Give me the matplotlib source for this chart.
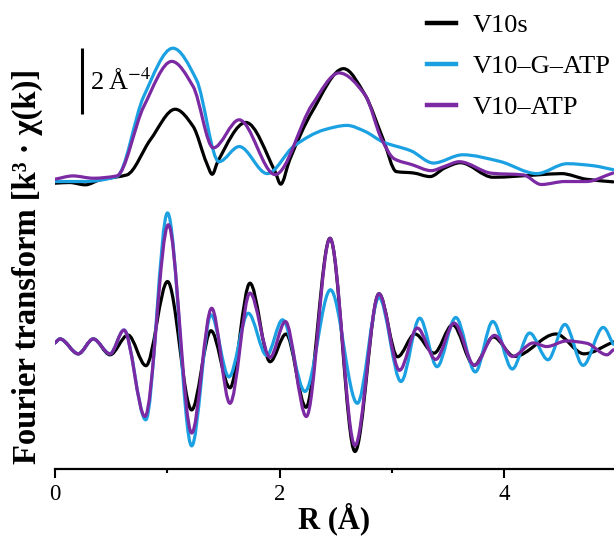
import matplotlib.pyplot as plt
import numpy as np
from matplotlib.path import Path
from matplotlib.patches import PathPatch
from matplotlib.lines import Line2D

plt.rcParams["font.family"] = ["Liberation Serif", "DejaVu Serif"]
plt.rcParams["mathtext.fontset"] = "stix"

# --- data (R in Angstrom, amplitude in A^-4) ---
labels = ["V10s", "V10\u2013G\u2013ATP", "V10\u2013ATP"]
colors = ["#000000", "#1ba1e2", "#7b2aa3"]

# magnitude |FT| (upper traces)
r_mag_v10s = [0.00, 0.13, 0.27, 0.40, 0.55, 0.64, 0.85, 1.07, 1.23, 1.35, 1.40, 1.45, 1.70, 1.96, 2.01,
              2.09, 2.29, 2.57, 2.76, 2.92, 3.04, 3.19, 3.34, 3.47, 3.61, 3.90, 4.29, 4.51, 4.73, 4.97]
mag_v10s = [0.23, 0.25, 0.18, 0.33, 0.42, 0.48, 1.55, 2.47, 1.95, 0.84, 0.50, 0.89, 2.07, 0.58, 0.20,
            0.94, 2.40, 3.70, 2.91, 1.58, 0.58, 0.54, 0.43, 0.69, 0.85, 0.41, 0.48, 0.52, 0.35, 0.27]

r_mag_gatp = [0.00, 0.25, 0.55, 0.79, 1.05, 1.26, 1.46, 1.64, 1.89, 2.13, 2.40, 2.60, 2.76, 2.92, 3.17,
              3.37, 3.63, 3.96, 4.29, 4.56, 4.79, 4.97]
mag_gatp = [0.28, 0.28, 0.43, 2.86, 4.32, 3.36, 0.88, 1.34, 0.52, 1.36, 1.85, 1.98, 1.80, 1.48, 1.21,
            0.84, 1.09, 0.89, 0.52, 0.82, 0.76, 0.64]

r_mag_atp = [0.00, 0.16, 0.34, 0.55, 0.79, 1.04, 1.23, 1.41, 1.64, 1.96, 2.29, 2.53, 2.76, 2.91, 3.02,
             3.18, 3.35, 3.47, 3.60, 3.89, 4.17, 4.33, 4.54, 4.73, 4.97]
mag_atp = [0.35, 0.45, 0.38, 0.45, 2.55, 3.92, 3.16, 1.30, 2.15, 0.49, 2.61, 3.57, 2.91, 1.55, 0.97,
           0.79, 0.61, 0.74, 0.88, 0.53, 0.48, 0.19, 0.28, 0.28, 0.54]

# imaginary part (lower traces), points at extrema
r_im_v10s = [0.00, 0.045, 0.207, 0.341, 0.490, 0.650, 0.810, 1.002, 1.217, 1.389, 1.558, 1.736, 1.915, 2.057,
             2.235, 2.449, 2.671, 2.885, 3.050, 3.206, 3.375, 3.541, 3.731, 3.903, 4.090, 4.461, 4.711, 4.971]
im_v10s = [0.09, 0.21, -0.24, 0.21, -0.27, 0.33, -0.60, 1.95, -1.94, 0.46, -1.27, 1.90, -0.48, 0.36,
           -1.86, 3.26, -3.20, 1.58, -0.33, 0.36, -0.22, 0.64, -0.59, 0.27, -0.32, 0.36, -0.24, 0.12]

r_im_gatp = [0.00, 0.045, 0.207, 0.341, 0.490, 0.614, 0.808, 1.002, 1.217, 1.389, 1.549, 1.721, 1.885, 2.026,
             2.226, 2.453, 2.692, 2.885, 3.081, 3.248, 3.402, 3.569, 3.743, 3.898, 4.072, 4.226, 4.390, 4.541,
             4.702, 4.882, 4.971]
im_gatp = [0.09, 0.21, -0.24, 0.21, -0.24, 0.48, -2.24, 4.03, -3.03, 0.94, -0.94, 0.99, -0.29, 0.79,
           -1.38, 1.70, -1.74, 1.47, -1.08, 0.84, -0.63, 0.86, -0.79, 0.74, -0.70, 0.39, -0.42, 0.65,
           -0.59, 0.56, 0.05]

r_im_atp = [0.00, 0.045, 0.207, 0.341, 0.490, 0.614, 0.801, 1.009, 1.217, 1.395, 1.558, 1.736, 1.915, 2.051,
            2.238, 2.449, 2.671, 2.885, 3.068, 3.226, 3.390, 3.555, 3.735, 3.914, 4.074, 4.259, 4.378, 4.556,
            4.735, 4.915, 4.971]
im_atp = [0.09, 0.21, -0.24, 0.21, -0.24, 0.48, -2.14, 3.67, -2.64, 1.14, -1.74, 1.60, -0.35, 0.74,
          -2.14, 3.26, -3.02, 1.58, -0.74, 0.54, -0.41, 0.69, -0.59, 0.32, -0.32, 0.09, -0.02, 0.15,
          0.08, -0.27, -0.12]

TOP_OFFSET = 4.7  # vertical shift of the |FT| traces


def smooth_path(x, y):
    # monotone cubic (pchip-like) segments drawn as bezier curves
    x = np.asarray(x, float)
    y = np.asarray(y, float)
    h = np.diff(x)
    d = np.diff(y) / h
    m = np.zeros_like(y)
    for i in range(1, len(y) - 1):
        if d[i - 1] * d[i] > 0:
            w1 = 2 * h[i] + h[i - 1]
            w2 = h[i] + 2 * h[i - 1]
            m[i] = (w1 + w2) / (w1 / d[i - 1] + w2 / d[i])
    m[0] = d[0]
    m[-1] = d[-1]
    verts = [(x[0], y[0])]
    codes = [Path.MOVETO]
    for i in range(len(h)):
        verts += [(x[i] + h[i] / 3, y[i] + m[i] * h[i] / 3),
                  (x[i + 1] - h[i] / 3, y[i + 1] - m[i + 1] * h[i] / 3),
                  (x[i + 1], y[i + 1])]
        codes += [Path.CURVE4] * 3
    return Path(verts, codes)


fig = plt.figure(figsize=(6.14, 5.36), dpi=100)
ax = fig.add_axes([55 / 614, 67 / 536, 559 / 614, 469 / 536])

mags = [(r_mag_v10s, mag_v10s), (r_mag_gatp, mag_gatp), (r_mag_atp, mag_atp)]
ims = [(r_im_v10s, im_v10s), (r_im_gatp, im_gatp), (r_im_atp, im_atp)]

for (rm, m), (ri, im), c in zip(mags, ims, colors):
    ax.add_patch(PathPatch(smooth_path(rm, np.array(m) + TOP_OFFSET), fill=False,
                           ec=c, lw=2.3, capstyle="round", joinstyle="round"))
    ax.add_patch(PathPatch(smooth_path(ri, im), fill=False,
                           ec=c, lw=2.3, capstyle="round", joinstyle="round"))

ax.set_xlim(0, 559 / 112.3)
ax.set_ylim(-3.73, 10.48)

# scale bar 2 A^-4
ax.plot([0.24, 0.24], [7.03, 9.03], color="black", lw=2.2, solid_capstyle="butt")
ax.text(0.31, 7.76, "2\u2009Å$^{-4}$", fontsize=19, ha="left", va="baseline")

for s in ["left", "top", "right"]:
    ax.spines[s].set_visible(False)
ax.spines["bottom"].set_linewidth(1.6)
ax.set_yticks([])
ax.set_xticks([0, 2, 4])
ax.set_xticks([1, 3], minor=True)
ax.tick_params(axis="x", which="major", length=6.5, width=1.5, labelsize=16.5, pad=4)
ax.tick_params(axis="x", which="minor", length=3, width=1.5)

fig.text(334.5 / 614, 1 - 528 / 536, "R (Å)", ha="center", va="baseline",
         fontsize=22, fontweight="bold")
fig.text(27 / 614, 1 - 266 / 536, "Fourier transform [k³ · χ(k)]", ha="center", va="center",
         rotation=90, fontsize=23.5, fontweight="bold")

handles = [Line2D([], [], color=c, lw=3.2) for c in colors]
fig.legend(handles, labels, loc="upper left", bbox_to_anchor=(427 / 614, 1 - 14 / 536),
           frameon=False, borderpad=0, borderaxespad=0, fontsize=19,
           handlelength=1.08, handletextpad=0.66, labelspacing=0.66)

fig.savefig("out.png", dpi=100)
